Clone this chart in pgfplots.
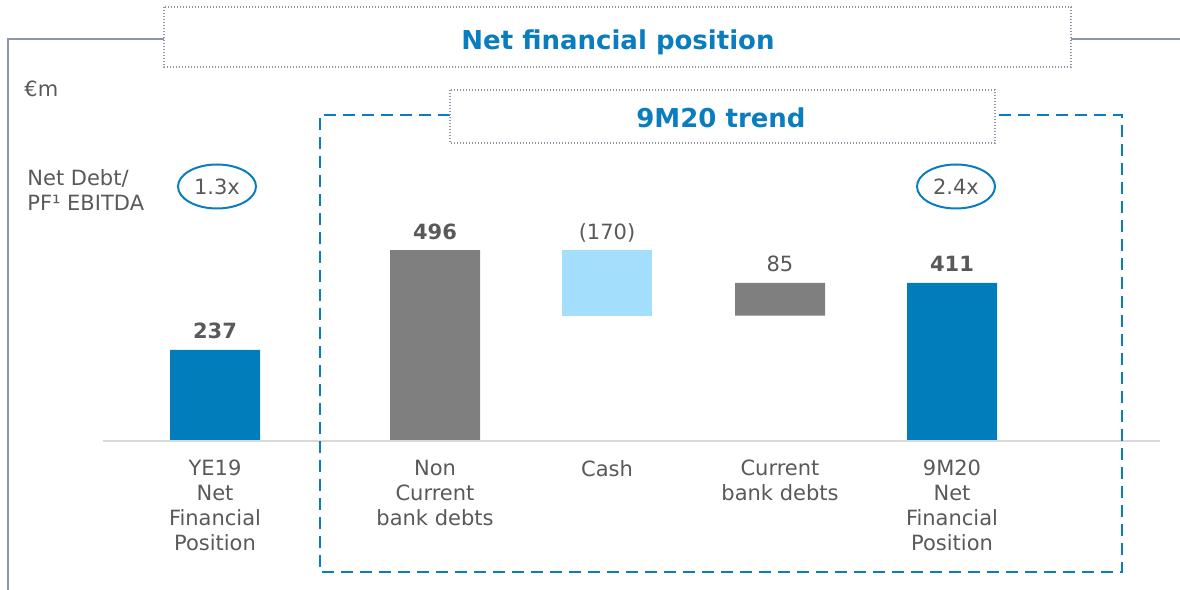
\documentclass[border=0pt]{standalone}
\usepackage{fontspec}
\setmainfont{DejaVu Sans}
\usepackage{pgfplots}
\pgfplotsset{compat=1.18}

\definecolor{nfpBlue}{HTML}{007DBA}
\definecolor{nfpGray}{HTML}{7F7F7F}
\definecolor{nfpLight}{HTML}{A3DFFD}
\definecolor{titleBlue}{HTML}{0A7DBE}
\definecolor{txtGray}{HTML}{595959}
\definecolor{frameGray}{HTML}{8C96A6}
\definecolor{baseGray}{HTML}{D9D9D9}

\tikzset{
  dotbox/.style={frameGray, line width=0.6pt, dash pattern=on 0.6pt off 0.9pt},
  catlbl/.style={anchor=north, inner sep=0pt, align=center, text=txtGray,
    font=\fontsize{10.5pt}{12.5pt}\selectfont},
  vallbl/.style={anchor=base, inner sep=0pt, text=txtGray, yshift=5.5pt,
    font=\fontsize{10.5pt}{12.5pt}\selectfont},
}

\begin{document}
\begin{tikzpicture}
\path[use as bounding box] (0,0) rectangle (590pt,295pt);

% chart area spans the whole picture; x in pixels, y in EUR m
\begin{axis}[
    at={(0,0)}, anchor=south west,
    scale only axis, width=590pt, height=295pt,
    hide axis, clip=false,
    xmin=0, xmax=1180,
    ymin=-387.4, ymax=1146.6,
    ybar stacked, bar width=45pt,
]
\draw[baseGray, line width=0.6pt] (axis cs:103,0) -- (axis cs:1160,0);

% invisible offsets for the floating bars
\addplot[draw=none, fill=none] coordinates {(215,0) (435,0) (607,326) (780,326) (952,0)};
\addplot[draw=none, fill=nfpBlue] coordinates {(215,237) (435,0) (607,0) (780,0) (952,411)};
\addplot[draw=none, fill=nfpGray] coordinates {(215,0) (435,496) (607,0) (780,85) (952,0)};
\addplot[draw=none, fill=nfpLight] coordinates {(215,0) (435,0) (607,170) (780,0) (952,0)};

\node[vallbl, font=\fontsize{10.5pt}{12.5pt}\selectfont\bfseries] at (axis cs:215,237) {237};
\node[vallbl, font=\fontsize{10.5pt}{12.5pt}\selectfont\bfseries] at (axis cs:435,496) {496};
\node[vallbl] at (axis cs:607,496) {(170)};
\node[vallbl] at (axis cs:780,411) {85};
\node[vallbl, font=\fontsize{10.5pt}{12.5pt}\selectfont\bfseries] at (axis cs:952,411) {411};
\end{axis}

% decorations in pixel coordinates (origin top left)
\begin{scope}[x=0.5pt, y=-0.5pt, shift={(0pt,295pt)}]
  \draw[frameGray, line width=1pt] (8,592) -- (8,39) -- (164,39);
  \draw[frameGray, line width=1pt] (1071,39) -- (1182,39);
  \draw[dotbox] (164,7) rectangle (1071,67);
  \node[anchor=base, inner sep=0pt, text=titleBlue,
        font=\fontsize{13pt}{15pt}\selectfont\bfseries] at (618,50) {Net financial position};

  \draw[titleBlue, line width=1.2pt, dash pattern=on 6pt off 3.5pt]
    (450,115) -- (320,115) -- (320,572) -- (1122,572) -- (1122,115) -- (995,115);
  \draw[dotbox] (450,90) rectangle (995,143);
  \node[anchor=base, inner sep=0pt, text=titleBlue,
        font=\fontsize{13pt}{15pt}\selectfont\bfseries] at (721,128) {9M20 trend};

  \begin{scope}[every node/.style={inner sep=0pt, text=txtGray,
        font=\fontsize{10.5pt}{12.5pt}\selectfont}]
    \node[anchor=base west] at (24,97) {€m};
    \node[anchor=base west] at (27,186) {Net Debt/};
    \node[anchor=base west] at (27,211) {PF¹ EBITDA};
    \node[anchor=center] at (217,187) {1.3x};
    \node[anchor=center] at (956,187) {2.4x};
  \end{scope}
  \draw[titleBlue, line width=1pt] (217,186.5) ellipse [x radius=39, y radius=22];
  \draw[titleBlue, line width=1pt] (956,186.5) ellipse [x radius=39, y radius=22];

  \node[catlbl] at (215,460) {YE19\\Net\\Financial\\Position};
  \node[catlbl] at (435,460) {Non\\Current\\bank debts};
  \node[catlbl] at (607,460) {Cash};
  \node[catlbl] at (780,460) {Current\\bank debts};
  \node[catlbl] at (952,460) {9M20\\Net\\Financial\\Position};
\end{scope}
\end{tikzpicture}
\end{document}
